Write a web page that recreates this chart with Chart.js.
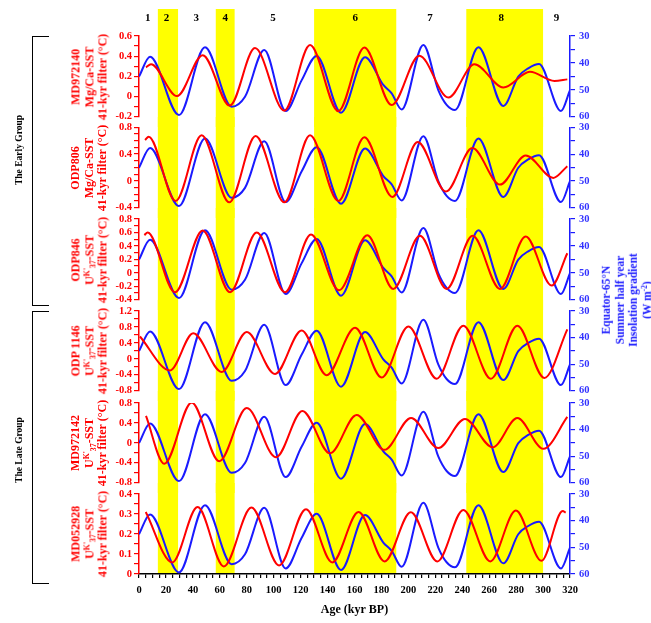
<!DOCTYPE html>
<html>
<head>
<meta charset="utf-8">
<script src="https://cdn.jsdelivr.net/npm/chart.js@4.4.0/dist/chart.umd.min.js"></script>
<style>
  body { margin: 0; background: #fff; }
  #lienzo { position: relative; width: 651px; height: 623px; overflow: hidden;
            font-family: 'Liberation Serif', 'DejaVu Serif', serif; font-weight: bold; }
  #lienzo canvas { position: absolute; left: 0; }
  .rot { position: absolute; white-space: nowrap; text-align: center;
         transform: translate(-50%, -50%) rotate(-90deg); }
  .rot sup { font-size: 0.65em; vertical-align: 0.55em; line-height: 0; }
  .rot sub { font-size: 0.65em; vertical-align: -0.3em; line-height: 0; }
  .estacion { color: #ff0000; font-size: 12px; line-height: 13.7px; }
  .grupo { color: #000; font-size: 9.5px; }
  .corchete { position: absolute; border: 1.6px solid #000; border-right: none; width: 16px; }
</style>
</head>
<body>
<div id="lienzo"></div>
<script>
// Gradiente de insolación Ecuador-65°N (W m-2), mismo en todos los paneles
const insolAge  = [0, 8.2, 29.7, 49, 68.8, 78.7, 93, 108.9, 120.8, 131.9, 150, 167.8, 181.4, 187.6, 195, 211.1, 222.2, 228.4, 234.6, 252, 270.5, 281.6, 289, 297, 313.3, 320];
const insolGrad = [45.1, 37.7, 59.4, 34.2, 56.3, 52.6, 35.2, 57.9, 46.4, 37.4, 58.5, 37.9, 48.2, 51.3, 57.3, 33.3, 50.1, 55.6, 57.5, 34.2, 56, 45.1, 42, 40.4, 57.9, 50.1];

// SST filtradas 41-kyr (°C)
const md972140Age = [5.2, 8.9, 28.2, 47.3, 67.4, 86.1, 107.9, 127, 148, 167.3, 187.6, 208.1, 229.7, 249, 270.5, 290.3, 308.4, 318];
const md972140Sst = [0.29, 0.32, 0.005, 0.41, -0.09, 0.48, -0.14, 0.51, -0.145, 0.485, -0.085, 0.405, -0.01, 0.32, 0.09, 0.245, 0.155, 0.17];

const odp806Age = [4.5, 7.2, 27.2, 46.5, 67, 86.6, 107.9, 127, 148, 167.3, 188.1, 206.9, 227.9, 247.5, 268, 287.1, 307.6, 318];
const odp806Sst = [0.61, 0.66, -0.30, 0.68, -0.32, 0.67, -0.32, 0.68, -0.30, 0.65, -0.24, 0.58, -0.16, 0.49, -0.055, 0.38, 0.045, 0.22];

const odp846Age = [4, 6.4, 26.7, 47.3, 67.6, 87.4, 108.4, 127.7, 148.5, 169.5, 188.8, 208.6, 228.4, 247.7, 268, 287.1, 306.4, 318];
const odp846Sst = [0.56, 0.60, -0.29, 0.63, -0.29, 0.60, -0.29, 0.57, -0.26, 0.56, -0.24, 0.55, -0.24, 0.55, -0.24, 0.54, -0.19, 0.29];

const odp1146Age = [0.7, 23, 40.3, 61.4, 80, 101, 120.8, 139.3, 160.4, 180.2, 200, 221, 240.8, 261.3, 280.9, 301, 318];
const odp1146Sst = [0.56, -0.29, 0.64, -0.33, 0.67, -0.38, 0.71, -0.41, 0.78, -0.47, 0.81, -0.50, 0.83, -0.50, 0.83, -0.48, 0.74];

const md972142Age = [5.2, 18.8, 39.1, 59.6, 80, 101.7, 121.3, 141.8, 161.6, 182.2, 202, 222.2, 242, 262.6, 280.9, 300.2, 318];
const md972142Sst = [0.54, -0.42, 0.81, -0.37, 0.70, -0.29, 0.64, -0.21, 0.56, -0.14, 0.50, -0.105, 0.48, -0.09, 0.50, -0.12, 0.52];

const md052928Age = [5, 24.7, 43.5, 63, 83.5, 104, 124, 143.5, 163, 182.3, 201.8, 221.5, 240.8, 260.8, 279.8, 298.8, 314.6, 316.8];
const md052928Sst = [0.31, 0.058, 0.335, 0.038, 0.332, 0.043, 0.324, 0.058, 0.31, 0.063, 0.309, 0.063, 0.32, 0.063, 0.317, 0.066, 0.315, 0.307];

// Estadios isotópicos marinos (MIS)
const misBands = [[14, 29], [57, 71], [130, 191], [243, 300]];
const misLabels = ['1', '2', '3', '4', '5', '6', '7', '8', '9'];
const misLabelAge = [6.5, 20.5, 42.5, 64, 99.5, 160.5, 216, 269, 310];

const fuente = "'Liberation Serif', 'DejaVu Serif', serif";
const ROJO = '#ff0000';
const AZUL = '#1a1aff';

const paneles = [
  { age: md972140Age, sst: md972140Sst, min: -0.2, max: 0.6, minor: 0.1, major: 0.2, top: 36, bottom: 117,
    nombre: ['MD972140', 'Mg/Ca-SST', '41-kyr filter (°C)'] },
  { age: odp806Age, sst: odp806Sst, min: -0.4, max: 0.8, minor: 0.1, major: 0.4, top: 127, bottom: 208,
    nombre: ['ODP806', 'Mg/Ca-SST', '41-kyr filter (°C)'] },
  { age: odp846Age, sst: odp846Sst, min: -0.4, max: 0.8, minor: 0.1, major: 0.2, top: 219, bottom: 300,
    nombre: ['ODP846', "U<sup>K'</sup><sub>37</sub>-SST", '41-kyr filter (°C)'] },
  { age: odp1146Age, sst: odp1146Sst, min: -0.8, max: 1.2, minor: 0.2, major: 0.4, top: 311, bottom: 391,
    nombre: ['ODP 1146', "U<sup>K'</sup><sub>37</sub>-SST", '41-kyr filter (°C)'] },
  { age: md972142Age, sst: md972142Sst, min: -0.8, max: 0.8, minor: 0.2, major: 0.4, top: 403, bottom: 483,
    nombre: ['MD972142', "U<sup>K'</sup><sub>37</sub>-SST", '41-kyr filter (°C)'] },
  { age: md052928Age, sst: md052928Sst, min: 0, max: 0.4, minor: 0.05, major: 0.1, top: 494, bottom: 574,
    nombre: ['MD052928', "U<sup>K'</sup><sub>37</sub>-SST", '41-kyr filter (°C)'] }
];

const esMayor = (v, paso) => Math.abs(v / paso - Math.round(v / paso)) < 1e-6;
const formato = v => String(Math.round(v * 100) / 100);

// Bandas amarillas de los estadios pares
const pluginBandas = {
  id: 'bandas',
  beforeDraw(chart, args, opts) {
    const { ctx, chartArea, scales } = chart;
    const fondo = opts.hastaAbajo ? chart.height : chartArea.bottom;
    ctx.save();
    ctx.fillStyle = '#ffff00';
    misBands.forEach(([a, b]) => {
      const x0 = scales.x.getPixelForValue(a);
      const x1 = scales.x.getPixelForValue(b);
      ctx.fillRect(x0, opts.top, x1 - x0, fondo - opts.top);
    });
    ctx.restore();
  },
  afterDraw(chart, args, opts) {
    if (!opts.etiquetas) return;
    const { ctx, scales } = chart;
    ctx.save();
    ctx.fillStyle = '#000';
    ctx.font = 'bold 11px ' + fuente;
    ctx.textAlign = 'center';
    ctx.textBaseline = 'middle';
    misLabels.forEach((t, k) => ctx.fillText(t, scales.x.getPixelForValue(misLabelAge[k]), 18));
    ctx.restore();
  }
};

const lienzo = document.getElementById('lienzo');

function crearPanel(p, i) {
  const ultimo = i === paneles.length - 1;
  const arriba = i === 0 ? 0 : paneles[i - 1].bottom;
  const abajo = ultimo ? 623 : p.bottom + 10;
  const canvas = document.createElement('canvas');
  canvas.width = 651;
  canvas.height = abajo - arriba;
  canvas.style.top = arriba + 'px';
  lienzo.appendChild(canvas);

  new Chart(canvas, {
    type: 'line',
    data: {
      datasets: [
        {
          data: p.age.map((a, k) => ({ x: a, y: p.sst[k] })),
          borderColor: ROJO, borderWidth: 2, pointRadius: 0,
          cubicInterpolationMode: 'monotone', yAxisID: 'y'
        },
        {
          data: insolAge.map((a, k) => ({ x: a, y: insolGrad[k] })),
          borderColor: AZUL, borderWidth: 2, pointRadius: 0,
          cubicInterpolationMode: 'monotone', yAxisID: 'y2'
        }
      ]
    },
    options: {
      responsive: false,
      animation: false,
      events: [],
      layout: { padding: { top: p.top - arriba, bottom: ultimo ? 0 : 10, left: 0, right: 0 } },
      plugins: {
        legend: { display: false },
        tooltip: { enabled: false },
        bandas: { top: i === 0 ? 9 : 0, etiquetas: i === 0, hastaAbajo: !ultimo }
      },
      scales: {
        x: {
          type: 'linear', min: 0, max: 320, display: ultimo,
          afterFit: s => { if (ultimo) s.height = 623 - p.bottom; },
          border: { color: '#000', width: 1.5 },
          grid: { drawOnChartArea: false, color: '#000', tickLength: 4, lineWidth: 1.2 },
          ticks: {
            stepSize: 5, autoSkip: false, maxRotation: 0, color: '#000', padding: 6,
            font: { family: fuente, size: 10.5, weight: 'bold' },
            callback: v => (v % 20 === 0 ? String(v) : '')
          },
          title: {
            display: true, text: 'Age (kyr BP)', color: '#000',
            font: { family: fuente, size: 12, weight: 'bold' },
            padding: { top: 0, bottom: 6 }
          }
        },
        y: {
          position: 'left', min: p.min, max: p.max,
          afterFit: s => { s.width = 139; },
          border: { color: ROJO, width: 1.5 },
          grid: { drawOnChartArea: false, color: ROJO, tickLength: 5, lineWidth: 1.2 },
          ticks: {
            stepSize: p.minor, autoSkip: false, color: ROJO, padding: 2,
            font: { family: fuente, size: 10.5, weight: 'bold' },
            callback: v => (esMayor(v, p.major) ? formato(v) : '')
          }
        },
        y2: {
          position: 'right', min: 30, max: 60, reverse: true,
          afterFit: s => { s.width = 81; },
          border: { color: AZUL, width: 1.5 },
          grid: { drawOnChartArea: false, color: AZUL, tickLength: 5, lineWidth: 1.2 },
          ticks: {
            stepSize: 5, autoSkip: false, color: '#3333ff', padding: 4,
            font: { family: fuente, size: 10.5, weight: 'bold' },
            callback: v => (v % 10 === 0 ? String(v) : '')
          }
        }
      }
    },
    plugins: [pluginBandas]
  });

  // Nombre del registro (texto rotado, en rojo)
  const etiqueta = document.createElement('div');
  etiqueta.className = 'rot estacion';
  etiqueta.innerHTML = p.nombre.join('<br>');
  etiqueta.style.left = '90px';
  etiqueta.style.top = ((p.top + p.bottom) / 2) + 'px';
  lienzo.appendChild(etiqueta);
}

paneles.forEach(crearPanel);

// Título del eje derecho
const tituloDer = document.createElement('div');
tituloDer.className = 'rot';
tituloDer.style.cssText += 'color:' + AZUL + ';font-size:11.5px;line-height:13.6px;left:627px;top:300px;';
tituloDer.innerHTML = 'Equator-65°N<br>Summer half year<br>Insolation gradient<br>(W m<sup>-2</sup>)';
lienzo.appendChild(tituloDer);

// Grupos y corchetes
[['The Early Group', 150, 36, 304], ['The Late Group', 450, 311, 582]].forEach(([texto, cy, y0, y1]) => {
  const g = document.createElement('div');
  g.className = 'rot grupo';
  g.textContent = texto;
  g.style.left = '19px';
  g.style.top = cy + 'px';
  lienzo.appendChild(g);
  const c = document.createElement('div');
  c.className = 'corchete';
  c.style.left = '32px';
  c.style.top = y0 + 'px';
  c.style.height = (y1 - y0) + 'px';
  lienzo.appendChild(c);
});
</script>
</body>
</html>
